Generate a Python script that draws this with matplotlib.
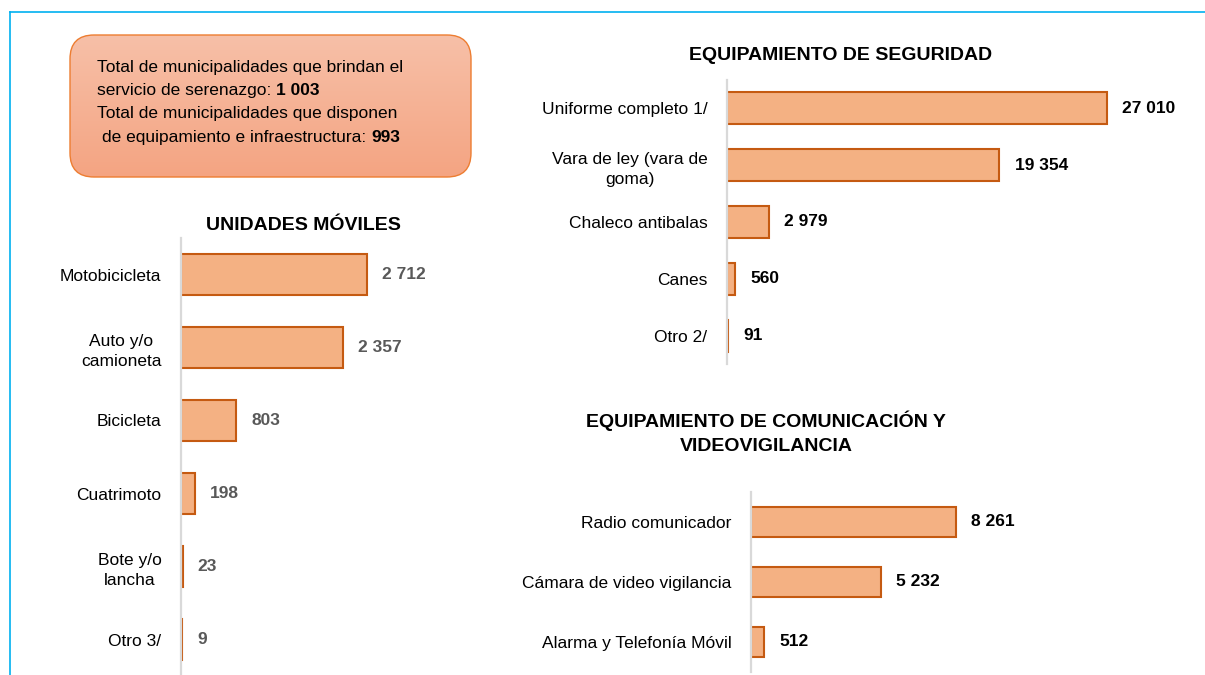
import numpy as np
import matplotlib.pyplot as plt
from matplotlib.patches import FancyBboxPatch
from matplotlib.colors import LinearSegmentedColormap

plt.rcParams['font.family'] = ['Liberation Sans', 'DejaVu Sans']

# --- data -------------------------------------------------------------
moviles_cats = ["Motobicicleta", "Auto y/o\ncamioneta", "Bicicleta",
                "Cuatrimoto", "Bote y/o\nlancha", "Otro 3/"]
moviles_vals = [2712, 2357, 803, 198, 23, 9]
moviles_labels = ["2 712", "2 357", "803", "198", "23", "9"]

seguridad_cats = ["Uniforme completo 1/", "Vara de ley (vara de\ngoma)",
                  "Chaleco antibalas", "Canes", "Otro 2/"]
seguridad_vals = [27010, 19354, 2979, 560, 91]
seguridad_labels = ["27 010", "19 354", "2 979", "560", "91"]

comunicacion_cats = ["Radio comunicador", "Cámara de video vigilancia",
                     "Alarma y Telefonía Móvil"]
comunicacion_vals = [8261, 5232, 512]
comunicacion_labels = ["8 261", "5 232", "512"]

total_serenazgo = "1 003"
total_equipamiento = "993"

W, H = 1205, 675
BAR_FACE = "#F4B183"
BAR_EDGE = "#C55A11"
FS = 12.5


def bar_panel(fig, left, top, width, height, cats, vals, labels, xmax,
              bar_h, value_color):
    """Horizontal bar panel placed with pixel geometry (top-left origin)."""
    ax = fig.add_axes([left / W, (H - top - height) / H, width / W, height / H])
    ax.patch.set_alpha(0)
    y = np.arange(len(cats))
    ax.barh(y, vals, height=bar_h, color=BAR_FACE, edgecolor=BAR_EDGE,
            linewidth=1.5)
    ax.set_ylim(len(cats) - 0.5, -0.5)
    ax.set_xlim(0, xmax)
    ax.set_yticks(y)
    ax.set_yticklabels(cats, fontsize=FS)
    for lab in ax.get_yticklabels():
        lab.set_multialignment("center")
        lab.set_linespacing(1.45)
    ax.tick_params(axis="y", length=0, pad=14)
    ax.set_xticks([])
    for side in ("top", "right", "bottom"):
        ax.spines[side].set_visible(False)
    ax.spines["left"].set_color("#D9D9D9")
    ax.spines["left"].set_linewidth(1.6)
    for v, yy, lbl in zip(vals, y, labels):
        ax.annotate(lbl, xy=(v, yy), xytext=(11, 0), textcoords="offset points",
                    va="center", ha="left", fontsize=FS, fontweight="bold",
                    color=value_color)
    return ax


fig = plt.figure(figsize=(W / 100, H / 100), dpi=100)

# overlay in pixel coordinates for frame, info box and titles
ov = fig.add_axes([0, 0, 1, 1])
ov.set_axis_off()

# light blue frame
ov.plot([10, W], [12, 12], color="#00B0F0", lw=1.2)
ov.plot([10, 10], [12, H], color="#00B0F0", lw=1.2)

# info box with vertical gradient
box = FancyBboxPatch((70, 35), 401, 142, boxstyle="round,pad=0,rounding_size=24",
                     facecolor="none", edgecolor="#ED7D31", lw=1.0, zorder=3)
ov.add_patch(box)
grad_cmap = LinearSegmentedColormap.from_list("g", ["#F7C0A8", "#F4A482"])
img = ov.imshow(np.linspace(0, 1, 200).reshape(-1, 1), cmap=grad_cmap,
                extent=(70, 471, 177, 35), aspect="auto", zorder=2)
img.set_clip_path(box)

ov.set_xlim(0, W)
ov.set_ylim(H, 0)

ov.text(97, 72, "Total de municipalidades que brindan el", fontsize=FS,
        va="baseline", zorder=4)
t2 = ov.text(97, 95, "servicio de serenazgo: ", fontsize=FS, va="baseline", zorder=4)
ov.annotate(total_serenazgo, xy=(1, 0), xycoords=t2, va="bottom", ha="left",
            fontsize=FS, fontweight="bold", zorder=4)
ov.text(97, 118, "Total de municipalidades que disponen", fontsize=FS,
        va="baseline", zorder=4)
t4 = ov.text(102, 142, "de equipamiento e infraestructura: ", fontsize=FS,
             va="baseline", zorder=4)
ov.annotate(total_equipamiento, xy=(1, 0), xycoords=t4, va="bottom", ha="left",
            fontsize=FS, fontweight="bold", zorder=4)

# panel titles
ov.text(303, 225, "UNIDADES MÓVILES", fontsize=14, fontweight="bold",
        ha="center", va="center")
ov.text(841, 55, "EQUIPAMIENTO DE SEGURIDAD", fontsize=14, fontweight="bold",
        ha="center", va="center")
ov.text(766, 433, "EQUIPAMIENTO DE COMUNICACIÓN Y\nVIDEOVIGILANCIA", fontsize=14,
        fontweight="bold", ha="center", va="center", linespacing=1.55)

# bar panels
bar_panel(fig, 181, 238, 302, 438, moviles_cats, moviles_vals, moviles_labels,
          4400, 0.56, "#595959")
bar_panel(fig, 727, 80, 422, 284, seguridad_cats, seguridad_vals,
          seguridad_labels, 30000, 0.56, "black")
bar_panel(fig, 751, 492, 298, 180, comunicacion_cats, comunicacion_vals,
          comunicacion_labels, 12000, 0.5, "black")

fig.savefig("out.png", dpi=100)
